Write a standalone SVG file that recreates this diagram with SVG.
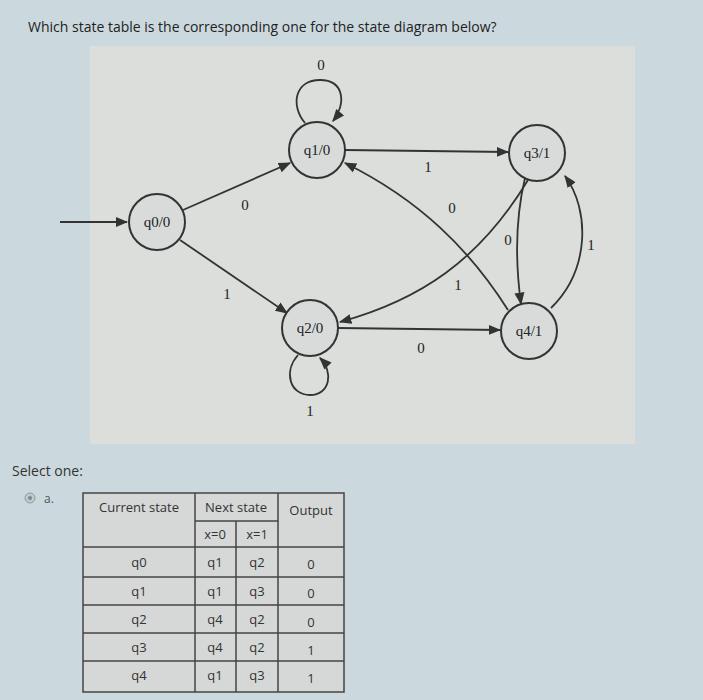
<svg xmlns="http://www.w3.org/2000/svg" width="703" height="700" viewBox="0 0 703 700">
<style>
.s{fill:#d8dbda;stroke:#333;stroke-width:2}
.t{font-family:"Liberation Serif",serif;font-size:15px;fill:#222;text-anchor:middle}
.u{font-family:"Open Sans","Liberation Sans",sans-serif;font-size:13px;fill:#333;text-anchor:middle}
.e{fill:none;stroke:#333;stroke-width:1.8;marker-end:url(#a)}
.g{fill:none;stroke:#444;stroke-width:1.5}
</style>
<defs><marker id="a" viewBox="0 0 10 10" refX="9" refY="5" markerWidth="7" markerHeight="7" orient="auto"><path d="M0,1 L10,5 L0,9 z" fill="#333"/></marker></defs>
<rect width="703" height="700" fill="#cbd9de"/>
<text x="28" y="32" font-family="Open Sans, Liberation Sans, sans-serif" font-size="14" fill="#222">Which state table is the corresponding one for the state diagram below?</text>
<rect x="90" y="46" width="545" height="398" fill="#dcdedc"/>
<g id="edges">
<path class="e" d="M60,222 L127,222"/>
<path class="e" d="M183,210 L290,163"/>
<path class="e" d="M180,240 L287,313"/>
<path class="e" d="M305,123 C290,105 295,80 320,80 C345,80 346,105 333,121"/>
<path class="e" d="M298,355 C283,372 290,395 310,395 C330,395 334,372 320,358"/>
<path class="e" d="M345,150 L508,152"/>
<path class="e" d="M338,328 L500,330"/>
<path class="e" d="M525,178 C515,220 515,260 521,304"/>
<path class="e" d="M551,308 C590,270 590,210 565,176"/>
<path class="e" d="M528,180 C480,260 420,300 340,322"/>
<path class="e" d="M508,310 C470,250 420,200 345,163"/>
</g>
<g class="t">
<text x="321" y="70">0</text>
<text x="428" y="172">1</text>
<text x="452" y="213">0</text>
<text x="508" y="245">0</text>
<text x="591" y="250">1</text>
<text x="458" y="290">1</text>
<text x="245" y="210">0</text>
<text x="227" y="299">1</text>
<text x="421" y="353">0</text>
<text x="310" y="416">1</text>
</g>
<g id="q0"><circle class="s" cx="157" cy="222" r="28"/><text class="t" x="157" y="227">q0/0</text></g>
<g id="q1"><circle class="s" cx="317" cy="150" r="28"/><text class="t" x="317" y="155">q1/0</text></g>
<g id="q2"><circle class="s" cx="310" cy="328" r="28"/><text class="t" x="310" y="333">q2/0</text></g>
<g id="q3"><circle class="s" cx="537" cy="153" r="28"/><text class="t" x="537" y="158">q3/1</text></g>
<g id="q4"><circle class="s" cx="529" cy="331" r="28"/><text class="t" x="529" y="336">q4/1</text></g>
<text x="12" y="476" font-family="Open Sans, Liberation Sans, sans-serif" font-size="14" fill="#333">Select one:</text>
<circle cx="30" cy="498" r="5" fill="#bcc" stroke="#999"/><circle cx="30" cy="498" r="2" fill="#789"/>
<text x="44" y="503" font-family="Open Sans, Liberation Sans, sans-serif" font-size="12" fill="#555">a.</text>
<g id="table">
<rect x="83" y="493" width="261" height="199" fill="#d6d8d7" stroke="#444" stroke-width="1.5"/>
<path class="g" d="M195,493V692M278,493V692M236,521V692M195,521H278M83,547H344M83,577H344M83,605H344M83,633H344M83,661H344"/>
<g class="u">
<text x="139" y="512">Current state</text><text x="236" y="512">Next state</text><text x="311" y="515">Output</text>
<text x="215" y="539">x=0</text><text x="257" y="539">x=1</text>
<text x="139" y="567">q0</text><text x="215" y="567">q1</text><text x="257" y="567">q2</text><text x="311" y="569">0</text>
<text x="139" y="596">q1</text><text x="215" y="596">q1</text><text x="257" y="596">q3</text><text x="311" y="598">0</text>
<text x="139" y="624">q2</text><text x="215" y="624">q4</text><text x="257" y="624">q2</text><text x="311" y="627">0</text>
<text x="139" y="652">q3</text><text x="215" y="652">q4</text><text x="257" y="652">q2</text><text x="311" y="655">1</text>
<text x="139" y="680">q4</text><text x="215" y="680">q1</text><text x="257" y="680">q3</text><text x="311" y="683">1</text>
</g></g>
</svg>
